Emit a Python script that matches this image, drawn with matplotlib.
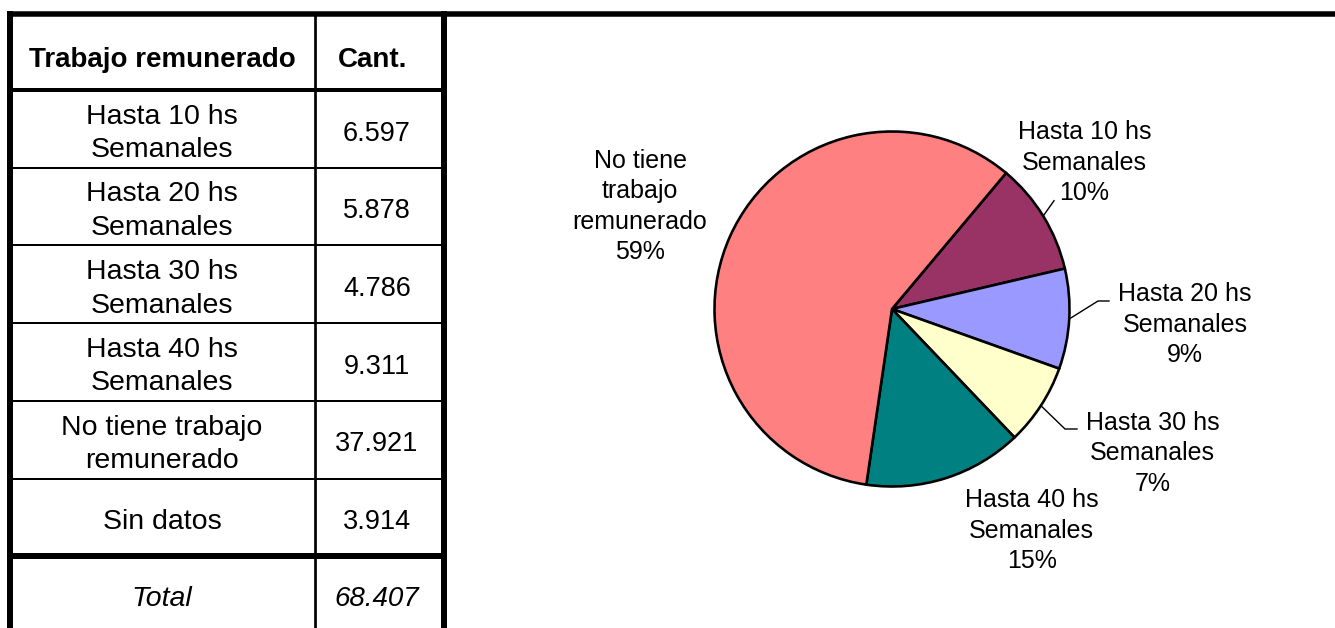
import matplotlib
matplotlib.use("Agg")
import matplotlib.pyplot as plt
import numpy as np

# ---------------- data ----------------
table_header = ["Trabajo remunerado", "Cant."]
row_labels = ["Hasta 10 hs\nSemanales", "Hasta 20 hs\nSemanales", "Hasta 30 hs\nSemanales",
              "Hasta 40 hs\nSemanales", "No tiene trabajo\nremunerado", "Sin datos"]
row_values = ["6.597", "5.878", "4.786", "9.311", "37.921", "3.914"]
total_label = "Total"
total_value = "68.407"

pie_labels = ["Hasta 10 hs\nSemanales", "Hasta 20 hs\nSemanales", "Hasta 30 hs\nSemanales",
              "Hasta 40 hs\nSemanales", "No tiene\ntrabajo\nremunerado"]
pie_values = [6597, 5878, 4786, 9311, 37921]
pie_pct_labels = ["10%", "9%", "7%", "15%", "59%"]
pie_colors = ["#993366", "#9999FF", "#FFFFCC", "#008080", "#FF8080"]

# ---------------- figure (pixel coordinates) ----------------
W, H = 1335, 628
fig = plt.figure(figsize=(W / 100, H / 100), dpi=100)
ax = fig.add_axes([0, 0, 1, 1])
FONT = "Liberation Sans"

def Y(y):
    return H - y

px = 72 / 100  # points per pixel

# ---------------- table ----------------
x_left, x_div, x_right = 10.3, 314.7, 443.5
header_top, header_bottom, row_h = 13.8, 90.0, 77.7
lab_cx, val_cx = 162, 377
lfs = 20.5   # label font size
nfs = 19.5   # number font size
ls_t = 1.38

n = len(row_labels)
row_tops = [header_bottom + i * row_h for i in range(n + 1)]

# header text
ax.text(lab_cx, Y(66.7), table_header[0], ha="center", va="baseline", fontsize=lfs - 0.5,
        fontweight="bold", family=FONT)
ax.text(val_cx - 4, Y(66.7), table_header[1], ha="center", va="baseline", fontsize=lfs - 0.5,
        fontweight="bold", family=FONT)

for i, (lab, val) in enumerate(zip(row_labels, row_values)):
    cc = row_tops[i] + row_h / 2
    if "\n" in lab:
        # va='baseline' aligns the last line's baseline
        ax.text(lab_cx, Y(cc + 28.5), lab, ha="center", va="baseline", fontsize=lfs,
                family=FONT, linespacing=ls_t, multialignment="center")
    else:
        ax.text(lab_cx, Y(cc + 11.7), lab, ha="center", va="baseline", fontsize=lfs, family=FONT)
    ax.text(val_cx, Y(cc + 11.7), val, ha="center", va="baseline", fontsize=nfs, family=FONT)

cc_tot = row_tops[n] + row_h / 2
ax.text(lab_cx, Y(cc_tot + 11), total_label, ha="center", va="baseline", fontsize=lfs,
        fontstyle="italic", family=FONT)
ax.text(val_cx, Y(cc_tot + 11), total_value, ha="center", va="baseline", fontsize=nfs + 0.5,
        fontstyle="italic", family=FONT)

# table lines
thick = 6 * px
ax.plot([7, W], [Y(header_top), Y(header_top)], color="black", lw=5.5 * px, solid_capstyle="butt")
ax.plot([x_left, x_left], [Y(11), Y(H + 5)], color="black", lw=thick, solid_capstyle="butt")
ax.plot([x_right, x_right], [Y(11), Y(H + 5)], color="black", lw=thick, solid_capstyle="butt")
ax.plot([x_div, x_div], [Y(header_top), Y(H + 5)], color="black", lw=2.7 * px, solid_capstyle="butt")
ax.plot([x_left, x_right], [Y(header_bottom), Y(header_bottom)], color="black", lw=4 * px)
for yt in row_tops[1:n]:
    ax.plot([x_left, x_right], [Y(yt), Y(yt)], color="black", lw=2 * px)
ax.plot([x_left, x_right], [Y(row_tops[n]), Y(row_tops[n])], color="black", lw=thick)

# ---------------- pie ----------------
pcx, pcy, pr = 892, 309, 177.5
wedges, _ = ax.pie(pie_values, colors=pie_colors, startangle=50, counterclock=False,
                   center=(pcx, Y(pcy)), radius=pr,
                   wedgeprops=dict(edgecolor="black", linewidth=2.6 * px))

pfs = 18
ls_p = 1.34
# (center x, baseline of the last line)
label_pos = [(1084.5, 200), (1185, 362), (1152.5, 490.7), (1031.7, 568), (640, 259)]
leader_ends = [[(1054, 200.7)], [(1098, 301), (1109, 301)], [(1065, 429), (1077, 429)], None, None]

for w, lab, pct, (lx, ly), le in zip(wedges, pie_labels, pie_pct_labels, label_pos, leader_ends):
    ax.text(lx, Y(ly), lab + "\n" + pct, ha="center", va="baseline", fontsize=pfs,
            family=FONT, linespacing=ls_p, multialignment="center")
    if le:
        mid = np.deg2rad((w.theta1 + w.theta2) / 2)
        sx = pcx + pr * np.cos(mid)
        sy = Y(pcy) + pr * np.sin(mid)
        xs = [sx] + [p[0] for p in le]
        ys = [sy] + [Y(p[1]) for p in le]
        ax.plot(xs, ys, color="black", lw=1.4 * px)

ax.set_xlim(0, W)
ax.set_ylim(0, H)
ax.set_aspect("auto")
ax.axis("off")
fig.savefig("out.png", dpi=100, facecolor="white")
